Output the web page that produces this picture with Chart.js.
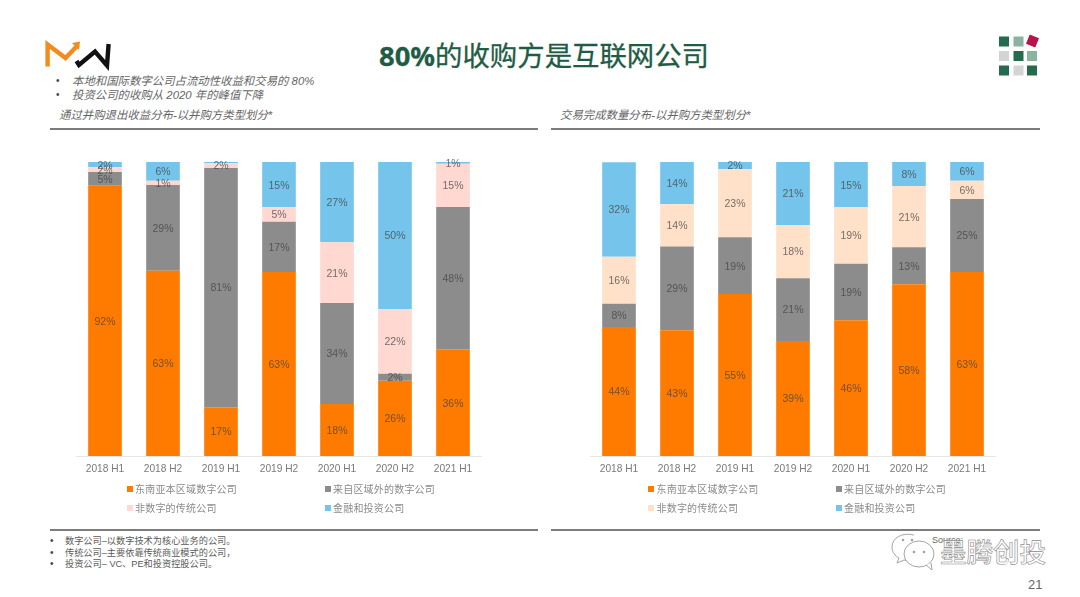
<!DOCTYPE html>
<html lang="zh">
<head>
<meta charset="utf-8">
<title>80%的收购方是互联网公司</title>
<script src="https://cdn.jsdelivr.net/npm/chart.js@4/dist/chart.umd.js"></script>
<style>
  html, body { margin: 0; padding: 0; background: #fff; }
  #slide {
    position: relative; width: 1080px; height: 597px; overflow: hidden; background: #fff;
    font-family: "Liberation Sans", "Noto Sans CJK SC", sans-serif;
  }
  #slide > * { position: absolute; }
  .title {
    left: 0; width: 1088px; top: 36px; text-align: center; white-space: nowrap;
    font: 400 27.4px/40px "Noto Sans", "Noto Sans CJK SC", sans-serif; color: #1f5c45;
    -webkit-text-stroke: 0.3px #1f5c45;
  }
  .title b { font-weight: 700; }
  .lead { font-size: 11.4px; line-height: 14px; font-style: italic; color: #666; white-space: nowrap; }
  .rule { height: 2px; background: #7c7c7c; }
  .note { font-size: 9.2px; line-height: 11px; color: #5a5a5a; white-space: nowrap; }
  .dot { font-size: 10px; line-height: 11px; color: #444; }
  .legend-item { font: 10px/14px "Noto Sans CJK SC", sans-serif; letter-spacing: 0.2px; color: #8a8a8a; white-space: nowrap; }
  .legend-box { width: 6px; height: 6px; }
  .page-no { font-size: 13px; line-height: 16px; color: #666; }
  .mark-name {
    font: 500 26.5px/30px "Noto Sans CJK SC", sans-serif; color: #fff; white-space: nowrap;
    -webkit-text-stroke: 0.6px #8c8c8c;
  }
  .source { font-size: 9px; line-height: 11px; color: #666; }
</style>
</head>
<body>
<div id="slide">
  <svg style="left:40px;top:36px" width="80" height="40" viewBox="0 0 80 40">
    <polyline points="7.6,30.5 7.6,8.5 25.5,22 37,10" fill="none" stroke="#f28c1e" stroke-width="4.4"/>
    <polygon points="32,7 40,5.5 39,14" fill="#f28c1e"/>
    <polyline points="36.5,25 39,29 55,15.5 67,29.5 68.6,8" fill="none" stroke="#111" stroke-width="4.4"/>
  </svg>
  <div class="title"><b>80%</b>的收购方是互联网公司</div>
  <svg style="left:995px;top:30px" width="50" height="50" viewBox="995 30 50 50">
    <rect x="999" y="36.5" width="10" height="10" fill="#246b50"/>
    <rect x="1013.5" y="36.5" width="10" height="10" fill="#8ab3a2"/>
    <rect x="1027.5" y="36" width="10" height="10" fill="#b8144a" transform="rotate(22 1032.5 41)"/>
    <rect x="999" y="51" width="10" height="10" fill="#d4d4d4"/>
    <rect x="1013.5" y="51" width="10" height="10" fill="#246b50"/>
    <rect x="1027" y="51" width="10" height="10" fill="#8ab3a2"/>
    <rect x="999" y="65.5" width="10" height="10" fill="#246b50"/>
    <rect x="1013.5" y="65.5" width="10" height="10" fill="#d4d4d4"/>
    <rect x="1027" y="65.5" width="10" height="10" fill="#246b50"/>
  </svg>

  <div class="dot" style="left:56px;top:75px">•</div>
  <div class="lead" style="left:72px;top:74px">本地和国际数字公司占流动性收益和交易的 80%</div>
  <div class="dot" style="left:56px;top:89px">•</div>
  <div class="lead" style="left:72px;top:88px">投资公司的收购从 2020 年的峰值下降</div>
  <div class="lead" style="left:59px;top:108px">通过并购退出收益分布-以并购方类型划分*</div>
  <div class="lead" style="left:560px;top:108px">交易完成数量分布-以并购方类型划分*</div>
  <div class="rule" style="left:50px;top:128px;width:488px"></div>
  <div class="rule" style="left:551px;top:128px;width:489px"></div>

  <canvas id="exitChart" style="left:76px;top:152px" width="406" height="334"></canvas>
  <canvas id="dealChart" style="left:590px;top:152px" width="406" height="334"></canvas>

  <div id="exitLegend"></div>
  <div id="dealLegend"></div>

  <div class="rule" style="left:50px;top:529px;width:488px"></div>
  <div class="rule" style="left:551px;top:529px;width:489px"></div>

  <div class="dot" style="left:50px;top:535px">•</div>
  <div class="note" style="left:65px;top:536px">数字公司–以数字技术为核心业务的公司。</div>
  <div class="dot" style="left:50px;top:547px">•</div>
  <div class="note" style="left:65px;top:548px">传统公司–主要依靠传统商业模式的公司，</div>
  <div class="dot" style="left:50px;top:558px">•</div>
  <div class="note" style="left:65px;top:559px">投资公司– VC、PE和投资控股公司。</div>

  <div class="source" style="left:932px;top:535px">Source:</div>
  <svg style="left:890px;top:532px" width="46" height="40" viewBox="0 0 46 40" fill="#fff" stroke="#9a9a9a" stroke-width="0.9">
    <path d="M24 3 C12 0 2 6 2 15 C2 20 5 24 9 26 L7 31 L14 28 C17 29 20 29 23 28"/>
    <ellipse cx="29" cy="22" rx="15" ry="13"/>
    <path d="M36 33 L42 38 L41 31" />
    <circle cx="24" cy="20" r="0.9" fill="#9a9a9a"/>
    <circle cx="34" cy="20" r="0.9" fill="#9a9a9a"/>
    <circle cx="13" cy="8" r="0.9" fill="#9a9a9a"/>
    <circle cx="22" cy="8" r="0.9" fill="#9a9a9a"/>
  </svg>
  <div class="mark-name" style="left:940px;top:536px">墨腾创投</div>
  <div class="page-no" style="left:1028px;top:577px">21</div>
</div>

<script>
const categories = ['2018 H1', '2018 H2', '2019 H1', '2019 H2', '2020 H1', '2020 H2', '2021 H1'];
const seriesNames = ['东南亚本区域数字公司', '来自区域外的数字公司', '非数字的传统公司', '金融和投资公司'];

// share of exit value, percent
const exitLocal = [91.9, 63.0, 16.6, 62.6, 17.7, 25.6, 36.3];
const exitForeign = [4.7, 29.2, 81.4, 17.1, 34.3, 2.4, 48.4];
const exitTraditional = [1.6, 1.4, 1.6, 4.9, 20.7, 22.0, 14.7];
const exitInvestor = [1.8, 6.4, 0.4, 15.4, 27.3, 50.0, 0.6];

// share of deal count, percent
const dealLocal = [43.9, 42.8, 55.1, 39.1, 46.2, 58.4, 62.6];
const dealForeign = [7.9, 28.5, 19.3, 21.4, 19.2, 12.6, 24.8];
const dealTraditional = [16.0, 14.3, 23.2, 18.1, 19.2, 20.8, 6.2];
const dealInvestor = [32.1, 14.4, 2.4, 21.4, 15.4, 8.2, 6.4];

const ORANGE = '#ff7b00';
const GREY = '#8c8c8c';
const PINK = '#ffd8d2';
const PEACH = '#ffe0c8';
const BLUE = '#74c4ec';

// percent labels centred on each stacked segment
const segmentLabels = {
  id: 'segmentLabels',
  afterDatasetsDraw(chart) {
    const { ctx } = chart;
    ctx.save();
    ctx.font = '10.5px "Liberation Sans", sans-serif';
    ctx.fillStyle = 'rgba(64, 64, 64, 0.72)';
    ctx.textAlign = 'center';
    ctx.textBaseline = 'middle';
    chart.data.datasets.forEach((dataset, i) => {
      chart.getDatasetMeta(i).data.forEach((bar, j) => {
        const rounded = Math.round(dataset.data[j]);
        if (rounded === 0) return;
        const { x, y, base } = bar.getProps(['x', 'y', 'base'], true);
        ctx.fillText(rounded + '%', x, (y + base) / 2 + 1);
      });
    });
    ctx.restore();
  },
};

function makeChart(id, values, colors) {
  return new Chart(document.getElementById(id), {
    type: 'bar',
    data: {
      labels: categories,
      datasets: values.map((data, i) => ({
        label: seriesNames[i],
        data,
        backgroundColor: colors[i],
        categoryPercentage: 0.58,
        barPercentage: 1,
      })),
    },
    options: {
      responsive: false,
      animation: false,
      layout: { padding: { top: 10, left: 0, right: 0, bottom: 0 } },
      plugins: { legend: { display: false }, tooltip: { enabled: false } },
      scales: {
        x: {
          stacked: true,
          afterFit(scale) { scale.height = 30; },
          grid: { display: false, tickLength: 0 },
          border: { color: '#e6e6e6' },
          ticks: {
            color: '#7a7a7a',
            padding: 7,
            maxRotation: 0,
            font: { size: 10.2, family: '"Liberation Sans", sans-serif' },
          },
        },
        y: { stacked: true, display: false, min: 0, max: 100 },
      },
    },
    plugins: [segmentLabels],
  });
}

// two-column legend under each chart
function makeLegend(id, columns, colors) {
  const rows = [489, 508];
  const holder = document.getElementById(id);
  seriesNames.forEach((name, i) => {
    const x = columns[i % 2];
    const y = rows[i < 2 ? 0 : 1];
    const box = document.createElement('div');
    box.className = 'legend-box';
    box.style.cssText = `position:absolute;left:${x}px;top:${y - 3}px;background:${colors[i]}`;
    const text = document.createElement('div');
    text.className = 'legend-item';
    text.style.cssText = `position:absolute;left:${x + 8.5}px;top:${y - 7}px`;
    text.textContent = name;
    holder.append(box, text);
  });
}

const exitColors = [ORANGE, GREY, PINK, BLUE];
const dealColors = [ORANGE, GREY, PEACH, BLUE];

makeChart('exitChart', [exitLocal, exitForeign, exitTraditional, exitInvestor], exitColors);
makeChart('dealChart', [dealLocal, dealForeign, dealTraditional, dealInvestor], dealColors);
makeLegend('exitLegend', [126.5, 324.5], exitColors);
makeLegend('dealLegend', [648, 835.5], dealColors);
</script>
</body>
</html>
